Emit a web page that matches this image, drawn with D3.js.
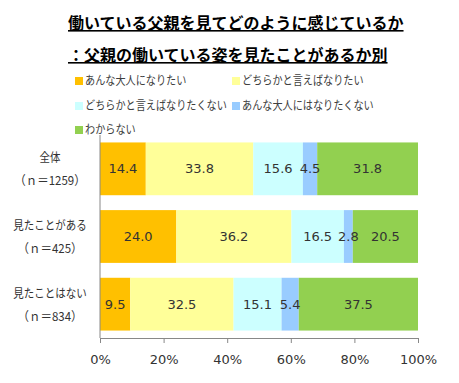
<!DOCTYPE html>
<html>
<head>
<meta charset="utf-8">
<script src="https://cdn.jsdelivr.net/npm/d3@7"></script>
<style>
  body { margin: 0; background: #fff; }
  svg { display: block; }
</style>
</head>
<body>
<svg id="chart" width="459" height="383"></svg>
<script>
const titleLines = ['働いている父親を見てどのように感じているか', '：父親の働いている姿を見たことがあるか別']
const categories = ['全体', '見たことがある', '見たことはない']
const counts = ['（ｎ＝1259）', '（ｎ＝425）', '（ｎ＝834）']
const seriesNames = ['あんな大人になりたい', 'どちらかと言えばなりたい', 'どちらかと言えばなりたくない', 'あんな大人にはなりたくない', 'わからない']
const seriesColors = ['#FFC000', '#FFFF99', '#CCFFFF', '#99CCFF', '#92D050']
const values = [
  [14.4, 33.8, 15.6, 4.5, 31.8],
  [24.0, 36.2, 16.5, 2.8, 20.5],
  [9.5, 32.5, 15.1, 5.4, 37.5]
]
const xTicks = [0, 20, 40, 60, 80, 100]

const svg = d3.select('#chart')
const jp = '"Noto Sans CJK JP", "Noto Sans", sans-serif'
const num = '"DejaVu Sans", Verdana, sans-serif'
// the original japanese font is narrow, so squeeze the CJK labels a bit
const squeeze = 0.84
const legendSqueeze = 0.845

// title
svg.selectAll('.title')
  .data(titleLines)
  .enter()
  .append('text')
    .attr('x', 68)
    .attr('y', (d, i) => 29 + i * 32)
    .attr('font-family', jp)
    .attr('font-size', 16)
    .attr('font-weight', 'bold')
    .attr('fill', '#000')
    .attr('text-decoration', 'underline')
    .text(d => d)

// legend
const legendPos = [[75, 81], [232, 81], [75, 106], [232, 106], [75, 130]]
const legend = svg.selectAll('.legend')
  .data(seriesNames)
  .enter()
  .append('g')
    .attr('transform', (d, i) => 'translate(' + legendPos[i][0] + ',' + legendPos[i][1] + ')')
legend.append('rect')
  .attr('x', 0).attr('y', -4)
  .attr('width', 8).attr('height', 8)
  .attr('fill', (d, i) => seriesColors[i])
legend.append('text')
  .attr('transform', 'translate(10,0) scale(' + legendSqueeze + ',1)')
  .attr('dy', '0.35em')
  .attr('font-family', jp)
  .attr('font-size', 12)
  .attr('fill', '#404040')
  .text(d => d)

// scales
const x = d3.scaleLinear().domain([0, 100]).range([100, 418])
const y = d3.scaleBand().domain(categories).range([135, 338]).paddingInner(0.22).paddingOuter(0.11)

// bars
const rows = svg.selectAll('.row')
  .data(categories)
  .enter()
  .append('g')

rows.each(function (cat, ci) {
  let acc = 0
  const segs = values[ci].map((v, si) => {
    const s = { v: v, si: si, x0: acc, x1: acc + v }
    acc += v
    return s
  })
  const g = d3.select(this)
  g.selectAll('rect')
    .data(segs)
    .enter()
    .append('rect')
      .attr('x', d => x(d.x0))
      .attr('y', y(cat))
      .attr('width', d => Math.min(x(d.x1), x(100)) - x(d.x0))
      .attr('height', y.bandwidth())
      .attr('fill', d => seriesColors[d.si])
  g.selectAll('text')
    .data(segs)
    .enter()
    .append('text')
      .attr('x', d => x((d.x0 + Math.min(d.x1, 100)) / 2))
      .attr('y', y(cat) + y.bandwidth() / 2)
      .attr('dy', '0.35em')
      .attr('text-anchor', 'middle')
      .attr('font-family', num)
      .attr('font-size', 13)
      .attr('fill', '#333')
      .text(d => d.v.toFixed(1))
})

// category labels
const catLabels = svg.selectAll('.cat')
  .data(categories)
  .enter()
  .append('g')
catLabels.append('text')
  .attr('transform', d => 'translate(50,' + (y(d) + y.bandwidth() / 2 - 11) + ') scale(' + squeeze + ',1)')
  .attr('dy', '0.35em')
  .attr('text-anchor', 'middle')
  .attr('font-family', jp)
  .attr('font-size', 12.5)
  .attr('fill', '#333')
  .text(d => d)
catLabels.append('text')
  .attr('transform', d => 'translate(50,' + (y(d) + y.bandwidth() / 2 + 12) + ') scale(0.92,1)')
  .attr('dy', '0.35em')
  .attr('text-anchor', 'middle')
  .attr('font-family', jp)
  .attr('font-size', 12.5)
  .attr('fill', '#333')
  .text((d, i) => counts[i])

// axes
const xAxis = d3.axisBottom(x)
  .tickValues(xTicks)
  .tickFormat(d => d + '%')
  .tickSize(5)
  .tickSizeOuter(0)
const ax = svg.append('g')
  .attr('transform', 'translate(0,338)')
  .call(xAxis)
ax.select('.domain').attr('stroke', '#888')
ax.selectAll('.tick line').attr('stroke', '#888')
ax.selectAll('.tick text')
  .attr('dy', '1.35em')
  .attr('font-family', num)
  .attr('font-size', 13)
  .attr('fill', '#333')

svg.append('line')
  .attr('x1', x(0)).attr('x2', x(0))
  .attr('y1', 135).attr('y2', 338)
  .attr('stroke', '#888')
</script>
</body>
</html>
